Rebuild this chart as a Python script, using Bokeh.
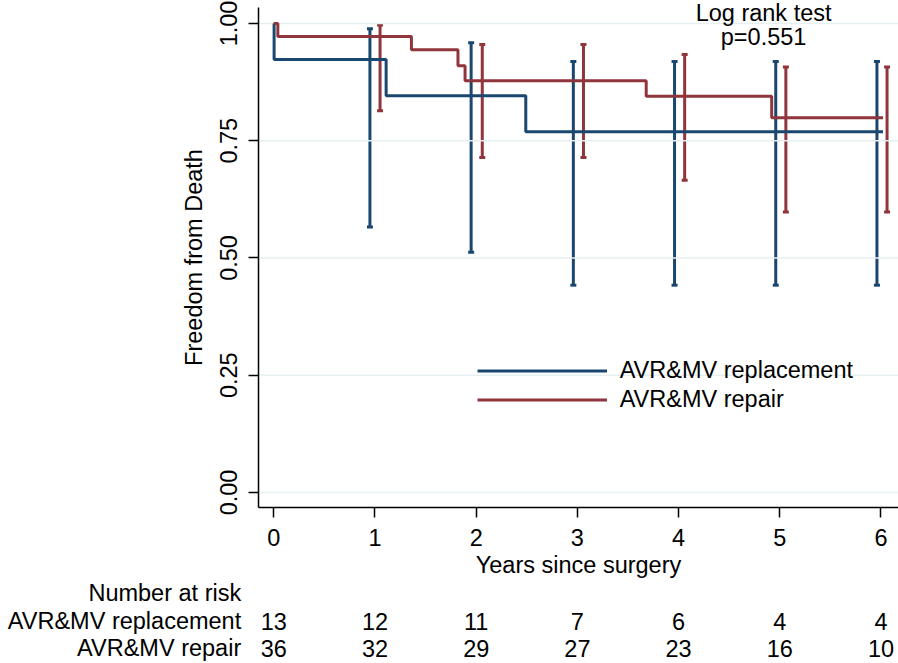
from bokeh.plotting import figure
from bokeh.models import (Range1d, FixedTicker, ColumnDataSource, Whisker, TeeHead,
                          Legend, LegendItem, Label)
from bokeh.embed import file_html
from bokeh.resources import INLINE
from bokeh.core.properties import value

# ---------------- data ----------------
series_names = ["AVR&MV replacement", "AVR&MV repair"]

repl_time = [0.0, 0.003, 1.11, 2.49, 6.02]
repl_surv = [1.0, 0.923, 0.846, 0.769, 0.769]
rep_time = [0.0, 0.04, 1.36, 1.82, 1.89, 3.68, 4.92, 6.02]
rep_surv = [1.0, 0.972, 0.944, 0.910, 0.878, 0.845, 0.799, 0.799]

repl_ci_x = [0.95, 1.95, 2.96, 3.96, 4.96, 5.96]
repl_ci_lo = [0.566, 0.512, 0.442, 0.442, 0.442, 0.442]
repl_ci_hi = [0.989, 0.959, 0.919, 0.919, 0.919, 0.919]
rep_ci_x = [1.05, 2.06, 3.06, 4.06, 5.06, 6.06]
rep_ci_lo = [0.814, 0.714, 0.714, 0.666, 0.598, 0.598]
rep_ci_hi = [0.997, 0.955, 0.955, 0.934, 0.907, 0.907]

x_ticks = [0, 1, 2, 3, 4, 5, 6]
y_ticks = [0.0, 0.25, 0.5, 0.75, 1.0]
y_tick_labels = ["0.00", "0.25", "0.50", "0.75", "1.00"]

x_title = "Years since surgery"
y_title = "Freedom from Death"
test_lines = ["Log rank test", "p=0.551"]

risk_title = "Number at risk"
risk_years = [0, 1, 2, 3, 4, 5, 6]
risk_repl = [13, 12, 11, 7, 6, 4, 4]
risk_rep = [36, 32, 29, 27, 23, 16, 10]

# ---------------- layout / style ----------------
BLUE = "#1a476f"
RED = "#90353b"
FONT = "Liberation Sans"
FS = "23.5px"

# plot region (inside a full-canvas frame; the axes are pinned to its edges)
PX0, PX1 = -0.151, 6.173
PY0, PY1 = -0.032, 1.0341

p = figure(width=898, height=663,
           x_range=Range1d(-2.7006, 6.173), y_range=Range1d(-0.3646, 1.0490),
           output_backend="svg", toolbar_location=None, min_border=0)
p.outline_line_color = None
p.background_fill_color = "white"
p.border_fill_color = "white"
p.grid.visible = False

# horizontal gridlines over the plot region only
p.segment(x0=[PX0] * len(y_ticks), x1=[PX1] * len(y_ticks), y0=y_ticks, y1=y_ticks,
          line_color="#e6eff1", line_width=1.5)

p.xaxis.ticker = FixedTicker(ticks=x_ticks)
p.yaxis.ticker = FixedTicker(ticks=y_ticks)
p.yaxis.major_label_overrides = {t: l for t, l in zip(y_ticks, y_tick_labels)}
p.yaxis.major_label_orientation = "vertical"
p.xaxis.fixed_location = PY0
p.yaxis.fixed_location = PX0
p.xaxis.bounds = (PX0, PX1)
p.yaxis.bounds = (PY0, PY1)

for ax in (p.xaxis, p.yaxis):
    ax.axis_line_color = "black"
    ax.axis_line_width = 1.5
    ax.major_tick_line_color = "black"
    ax.major_tick_line_width = 1.5
    ax.major_tick_out = 10
    ax.major_tick_in = 0
    ax.minor_tick_line_color = None
    ax.major_label_text_font = FONT
    ax.major_label_text_font_size = FS
    ax.major_label_text_color = "black"
    ax.axis_label_text_font = FONT
    ax.axis_label_text_font_size = FS
    ax.axis_label_text_font_style = "normal"
    ax.axis_label_text_color = "black"

p.xaxis.axis_label = x_title
p.yaxis.axis_label = y_title
p.xaxis.major_label_standoff = 11
p.xaxis.axis_label_standoff = 3
p.yaxis.major_label_standoff = 12
p.yaxis.axis_label_standoff = 10

r_repl = p.step(repl_time, repl_surv, mode="after", line_color=BLUE, line_width=3)
r_rep = p.step(rep_time, rep_surv, mode="after", line_color=RED, line_width=3)

for xs, lo, hi, col in ((repl_ci_x, repl_ci_lo, repl_ci_hi, BLUE),
                        (rep_ci_x, rep_ci_lo, rep_ci_hi, RED)):
    src = ColumnDataSource(dict(base=xs, lower=lo, upper=hi))
    w = Whisker(source=src, base="base", lower="lower", upper="upper", dimension="height",
                line_color=col, line_width=3,
                upper_head=TeeHead(size=6, line_color=col, line_width=3),
                lower_head=TeeHead(size=6, line_color=col, line_width=3))
    p.add_layout(w)

legend = Legend(items=[LegendItem(label=series_names[0], renderers=[r_repl]),
                       LegendItem(label=series_names[1], renderers=[r_rep])],
                location=(476.7, 249.5), orientation="vertical",
                glyph_width=130, glyph_height=29, label_height=29, label_standoff=13,
                padding=0, margin=0, spacing=0,
                border_line_color=None, background_fill_alpha=0,
                label_text_font=FONT, label_text_font_size=FS, label_text_color="black")
p.add_layout(legend)

for txt, yy in zip(test_lines, (1.023, 0.972)):
    p.add_layout(Label(x=4.84, y=yy, text=txt, text_align="center",
                       text_baseline="alphabetic", text_font=FONT, text_font_size=FS,
                       text_color="black"))

# ---------------- number at risk table (below the axis) ----------------
ROW_Y = [-0.2153, -0.2750, -0.3319]   # row baselines (layout)
LABEL_X = -0.322                       # right edge of row labels (layout)

p.text(x=[LABEL_X] * 3, y=ROW_Y, text=[risk_title] + series_names, text_align="right",
       text_baseline="alphabetic", text_font=value(FONT), text_font_size=FS,
       text_color="black")
p.text(x=risk_years, y=[ROW_Y[1]] * len(risk_years), text=[str(v) for v in risk_repl],
       text_align="center", text_baseline="alphabetic", text_font=value(FONT),
       text_font_size=FS, text_color="black")
p.text(x=risk_years, y=[ROW_Y[2]] * len(risk_years), text=[str(v) for v in risk_rep],
       text_align="center", text_baseline="alphabetic", text_font=value(FONT),
       text_font_size=FS, text_color="black")

open("out.html", "w").write(file_html(p, INLINE))
